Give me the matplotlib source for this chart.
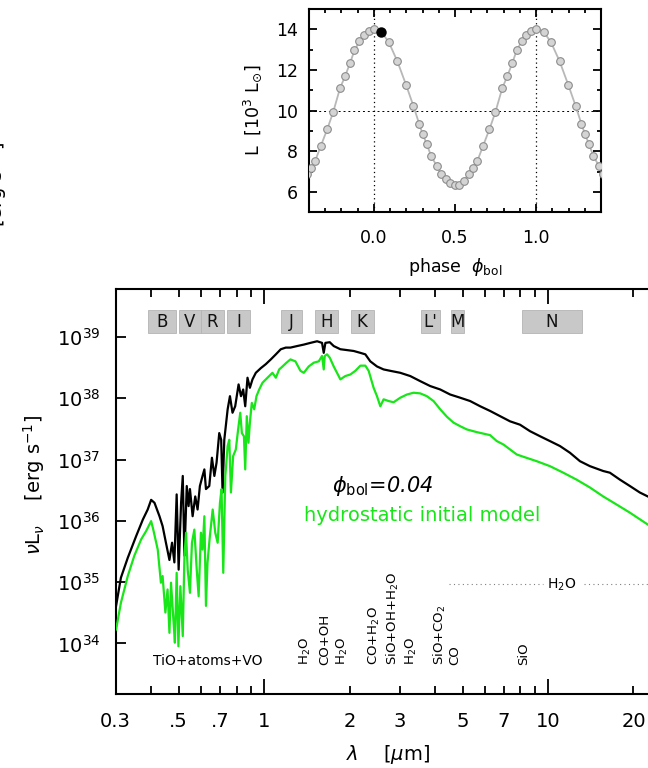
import matplotlib
matplotlib.use("Agg")
import matplotlib.pyplot as plt
import matplotlib.transforms as mtransforms
from matplotlib.ticker import FixedLocator, NullLocator, FixedFormatter, MultipleLocator, FormatStrFormatter
from matplotlib.patches import Rectangle

plt.rcParams['font.family'] = ['DejaVu Sans']
plt.rcParams['mathtext.fontset'] = 'dejavusans'

# ---------------- data: light curve ----------------
phase = [-0.414, -0.389, -0.363, -0.327, -0.288, -0.251, -0.209, -0.178, -0.147, -0.120,
         -0.089, -0.061, -0.031, 0.000, 0.046, 0.092, 0.145, 0.198, 0.244, 0.279,
         0.300, 0.325, 0.353, 0.386, 0.414, 0.442, 0.470, 0.498, 0.522, 0.553,
         0.586, 0.611, 0.637, 0.673, 0.712, 0.749, 0.791, 0.822, 0.853, 0.880,
         0.911, 0.939, 0.969, 1.000, 1.046, 1.092, 1.145, 1.198, 1.244, 1.279,
         1.300, 1.325, 1.353, 1.386, 1.414]
lum = [6.90, 7.17, 7.51, 8.27, 9.08, 9.93, 11.10, 11.69, 12.34, 12.96,
       13.41, 13.74, 13.93, 14.02, 13.88, 13.36, 12.42, 11.27, 10.22, 9.35,
       8.86, 8.37, 7.76, 7.30, 6.88, 6.63, 6.44, 6.32, 6.35, 6.53,
       6.90, 7.19, 7.51, 8.27, 9.08, 9.93, 11.10, 11.69, 12.34, 12.96,
       13.41, 13.74, 13.93, 14.02, 13.88, 13.36, 12.42, 11.27, 10.22, 9.35,
       8.86, 8.37, 7.76, 7.30, 6.88]
phase_sel = [0.046]
lum_sel = [13.88]

# ---------------- data: spectra ----------------
lam_dyn = [0.301, 0.313, 0.331, 0.354, 0.374, 0.389, 0.400, 0.411, 0.428, 0.439,
           0.451, 0.464, 0.474, 0.483, 0.492, 0.500, 0.510, 0.517, 0.524, 0.534,
           0.542, 0.548, 0.560, 0.572, 0.583, 0.594, 0.607, 0.616, 0.624, 0.641,
           0.655, 0.668, 0.680, 0.695, 0.706, 0.714, 0.724, 0.744, 0.758, 0.774,
           0.791, 0.813, 0.829, 0.844, 0.858, 0.874, 0.891, 0.910, 0.935, 0.974,
           1.014, 1.056, 1.100, 1.145, 1.192, 1.238, 1.307, 1.380, 1.456, 1.537,
           1.600, 1.622, 1.644, 1.703, 1.759, 1.856, 1.959, 2.068, 2.183, 2.273,
           2.366, 2.498, 2.636, 2.783, 3.017, 3.272, 3.548, 3.847, 4.172, 4.523,
           4.905, 5.318, 5.768, 6.254, 6.781, 7.352, 7.971, 8.645, 9.374, 10.16,
           11.02, 11.95, 12.96, 14.05, 15.65, 16.52, 17.92, 19.43, 21.06, 22.47]
L_dyn = [4.1e34, 1.18e35, 2.5e35, 5.6e35, 1.05e36, 1.53e36, 2.2e36, 1.97e36, 1.19e36, 8.2e35,
         4.4e35, 2.3e35, 4.4e35, 2.1e35, 2.7e36, 1.6e35, 1.97e36, 5.4e36, 2.7e35, 3.7e36,
         1.74e36, 3.3e36, 1.19e36, 2.5e36, 1.53e36, 3.7e36, 5.4e36, 6.9e36, 3.3e36, 3.7e36,
         1.07e37, 5.4e36, 8.9e36, 2.7e37, 2.1e37, 2.9e36, 2.1e37, 6.6e37, 1.08e38, 5.8e37,
         7.4e37, 1.68e38, 1.08e38, 1.39e38, 7.4e37, 2.16e38, 1.48e38, 2.03e38, 2.6e38, 3.1e38,
         3.6e38, 4.3e38, 5.2e38, 6.3e38, 6.7e38, 6.7e38, 7.1e38, 7.5e38, 8.0e38, 8.5e38,
         8.0e38, 5.5e38, 8.0e38, 8.2e38, 7.1e38, 6.3e38, 6.1e38, 5.9e38, 5.5e38, 5.2e38,
         4.0e38, 3.3e38, 2.95e38, 2.8e38, 2.6e38, 2.3e38, 1.9e38, 1.58e38, 1.39e38, 1.15e38,
         1.02e38, 9.0e37, 7.4e37, 6.2e37, 5.1e37, 4.2e37, 3.7e37, 2.9e37, 2.4e37, 2.0e37,
         1.66e37, 1.29e37, 9.4e36, 7.8e36, 6.5e36, 6.1e36, 4.7e36, 3.7e36, 2.9e36, 2.5e36]

lam_hyd = [0.301, 0.313, 0.331, 0.349, 0.369, 0.384, 0.400, 0.407, 0.422, 0.433,
           0.439, 0.449, 0.457, 0.464, 0.470, 0.479, 0.485, 0.492, 0.499, 0.507,
           0.517, 0.524, 0.531, 0.538, 0.548, 0.557, 0.568, 0.579, 0.588, 0.599,
           0.607, 0.616, 0.624, 0.632, 0.644, 0.659, 0.673, 0.686, 0.699, 0.708,
           0.718, 0.730, 0.744, 0.754, 0.764, 0.778, 0.795, 0.810, 0.824, 0.835,
           0.849, 0.858, 0.869, 0.881, 0.891, 0.905, 0.923, 0.940, 0.961, 0.987,
           1.014, 1.042, 1.070, 1.100, 1.130, 1.161, 1.199, 1.238, 1.289, 1.343,
           1.380, 1.436, 1.496, 1.558, 1.600, 1.622, 1.635, 1.666, 1.703, 1.759,
           1.831, 1.856, 1.932, 2.013, 2.096, 2.183, 2.273, 2.335, 2.431, 2.498,
           2.567, 2.636, 2.746, 2.858, 3.017, 3.185, 3.361, 3.548, 3.745, 3.952,
           4.172, 4.403, 4.647, 4.905, 5.176, 5.614, 6.254, 6.601, 6.966, 7.352,
           7.759, 8.191, 9.124, 10.16, 11.32, 12.61, 14.05, 15.65, 17.43, 19.43, 22.47]
L_hyd = [1.69e34, 4.6e34, 1.26e35, 2.7e35, 5.0e35, 6.8e35, 9.9e35, 7.2e35, 3.4e35, 9.8e34,
         1.26e35, 3.2e34, 7.6e34, 1.49e34, 9.8e34, 2.5e34, 1.03e34, 1.42e35, 9.0e33, 8.6e34,
         1.32e34, 2.7e35, 6.4e35, 1.6e35, 6.7e34, 4.4e35, 7.2e35, 1.6e35, 5.9e34, 6.4e35,
         3.4e35, 1.19e36, 4.1e34, 2.1e35, 5.6e35, 1.53e36, 6.4e35, 4.4e35, 1.97e36, 3.3e36,
         1.42e35, 5.4e36, 1.66e37, 2.1e37, 2.9e36, 1.14e37, 1.46e37, 3.1e37, 5.8e37, 2.7e37,
         2.4e37, 6.9e36, 5.1e37, 1.88e37, 4.0e37, 8.4e37, 6.6e37, 1.08e38, 1.39e38, 1.79e38,
         2.03e38, 2.3e38, 2.6e38, 2.16e38, 2.95e38, 3.3e38, 3.8e38, 4.3e38, 4.0e38, 2.8e38,
         2.6e38, 3.3e38, 3.8e38, 4.0e38, 4.9e38, 2.95e38, 4.9e38, 5.2e38, 4.6e38, 3.3e38,
         2.3e38, 2.03e38, 2.3e38, 2.44e38, 2.8e38, 3.4e38, 3.4e38, 2.8e38, 1.48e38, 1.08e38,
         7.4e37, 9.6e37, 9.0e37, 8.6e37, 1.02e38, 1.15e38, 1.23e38, 1.20e38, 1.08e38, 9.0e37,
         6.6e37, 5.0e37, 4.0e37, 3.5e37, 3.1e37, 2.8e37, 2.5e37, 2.0e37, 1.76e37, 1.46e37,
         1.21e37, 1.11e37, 9.4e36, 7.8e36, 6.1e36, 4.7e36, 3.5e36, 2.5e36, 1.85e36, 1.36e36, 8.7e35]

# photometric bands
band_names = ['B', 'V', 'R', 'I', 'J', 'H', 'K', "L'", 'M', 'N']
band_lo = [0.39, 0.50, 0.60, 0.74, 1.15, 1.51, 2.02, 3.56, 4.55, 8.1]
band_hi = [0.49, 0.60, 0.72, 0.89, 1.36, 1.82, 2.43, 4.17, 5.04, 13.2]

# molecular feature labels
mol_text = ['H$_2$O', 'CO+OH', 'H$_2$O', 'CO+H$_2$O', 'SiO+OH+H$_2$O', 'H$_2$O',
            'SiO+CO$_2$', 'CO', 'SiO']
mol_lam = [1.40, 1.64, 1.89, 2.44, 2.84, 3.31, 4.17, 4.70, 8.2]
h2o_band_lam = [4.49, 9.6, 13.4, 30.0]
h2o_band_L = 9.2e34
h2o_label_lam = 11.2

GREEN = '#18e618'

fig = plt.figure(figsize=(6.48, 7.68), dpi=100)

# ================= top panel =================
ax1 = fig.add_axes([0.4769, 0.7236, 0.4506, 0.2647])
ax1.plot(phase, lum, '-', color='#b8b8b8', lw=1.3, zorder=2)
ax1.plot(phase, lum, 'o', ms=5.5, mfc='#d4d4d4', mec='#8c8c8c', mew=0.8, zorder=3)
ax1.plot(phase_sel, lum_sel, 'o', ms=6.5, color='black', zorder=4)
ax1.axvline(0, color='black', ls=(0, (1, 2.5)), lw=0.9, zorder=1)
ax1.axvline(1, color='black', ls=(0, (1, 2.5)), lw=0.9, zorder=1)
ax1.axhline(10, color='black', ls=(0, (2, 3)), lw=0.7, zorder=1)
ax1.set_xlim(-0.4, 1.4)
ax1.set_ylim(5, 15)
ax1.xaxis.set_major_locator(MultipleLocator(0.5))
ax1.xaxis.set_minor_locator(MultipleLocator(0.1))
ax1.xaxis.set_major_formatter(FormatStrFormatter('%.1f'))
ax1.yaxis.set_major_locator(MultipleLocator(2))
ax1.yaxis.set_minor_locator(MultipleLocator(1))
ax1.yaxis.set_major_formatter(FormatStrFormatter('%d'))
ax1.tick_params(which='both', direction='in', top=True, right=True, width=1.3)
ax1.tick_params(which='major', length=6)
ax1.tick_params(which='minor', length=3)
ax1.tick_params(axis='x', which='major', labelsize=12.5, pad=12)
ax1.tick_params(axis='y', which='major', labelsize=12.5, pad=8)
for s in ax1.spines.values():
    s.set_linewidth(1.5)
ax1.set_xlabel(r'phase  $\phi_{\mathrm{bol}}$', fontsize=12.5)
ax1.set_ylabel(r'L  [10$^3$ L$_{\odot}$]', fontsize=12.5)
ax1.xaxis.set_label_coords(0.5, -0.215)
ax1.yaxis.set_label_coords(-0.154, 0.5)

# ================= lower panel =================
ax2 = fig.add_axes([0.1785, 0.0964, 0.8415, 0.5270])
ax2.set_xscale('log')
ax2.set_yscale('log')
ax2.set_xlim(0.3, 25)
ax2.set_ylim(1.5e33, 6e39)
ax2.plot(lam_dyn, L_dyn, '-', color='black', lw=1.6, zorder=3)
ax2.plot(lam_hyd, L_hyd, '-', color=GREEN, lw=1.6, zorder=4)

trans = mtransforms.blended_transform_factory(ax2.transData, ax2.transAxes)
for name, lo, hi in zip(band_names, band_lo, band_hi):
    ax2.add_patch(Rectangle((lo, 0.891), hi - lo, 0.058, transform=trans,
                            facecolor='#c8c8c8', edgecolor='#b4b4b4', lw=0.6, zorder=2))
    ax2.text((lo * hi) ** 0.5, 0.920, name, transform=trans, ha='center', va='center',
             fontsize=12, color='#111111', zorder=3)

for txt, lm in zip(mol_text, mol_lam):
    ax2.text(lm, 0.072, txt, transform=trans, rotation=90, ha='center', va='bottom',
             fontsize=9.5, color='black')
ax2.text(0.632, 0.0815, 'TiO+atoms+VO', transform=trans, ha='center', va='center',
         fontsize=10, color='black')
ax2.plot(h2o_band_lam[:2], [h2o_band_L, h2o_band_L], color='#808080', lw=0.8,
         ls=(0, (1, 3)), zorder=2)
ax2.plot(h2o_band_lam[2:], [h2o_band_L, h2o_band_L], color='#808080', lw=0.8,
         ls=(0, (1, 3)), zorder=2)
ax2.text(h2o_label_lam, h2o_band_L, 'H$_2$O', ha='center', va='center', fontsize=10)

ax2.text(2.61, 3.7e36, r'$\phi_{\mathrm{bol}}$=0.04', ha='center', va='center',
         fontsize=15, color='black', fontstyle='italic')
ax2.text(3.59, 1.22e36, 'hydrostatic initial model', ha='center', va='center',
         fontsize=14, color=GREEN)

ax2.xaxis.set_major_locator(FixedLocator([1, 10]))
ax2.xaxis.set_major_formatter(FixedFormatter(['1', '10']))
minor_pos = [0.3, 0.4, 0.5, 0.6, 0.7, 0.8, 0.9, 2, 3, 4, 5, 6, 7, 8, 9, 20]
minor_lab = ['0.3', '', '.5', '', '.7', '', '', '2', '3', '', '5', '', '7', '', '', '20']
ax2.xaxis.set_minor_locator(FixedLocator(minor_pos))
ax2.xaxis.set_minor_formatter(FixedFormatter(minor_lab))
ydec = [1e34, 1e35, 1e36, 1e37, 1e38, 1e39]
ax2.yaxis.set_major_locator(FixedLocator(ydec))
ax2.yaxis.set_major_formatter(FixedFormatter(['10$^{34}$', '10$^{35}$', '10$^{36}$',
                                              '10$^{37}$', '10$^{38}$', '10$^{39}$']))
ax2.yaxis.set_minor_locator(NullLocator())
ax2.tick_params(which='both', direction='in', top=True, right=True, width=1.3)
ax2.tick_params(axis='x', which='major', length=11, labelsize=14, pad=13)
ax2.tick_params(axis='x', which='minor', length=5.5, labelsize=14, pad=13)
ax2.tick_params(axis='y', which='major', length=7.5, labelsize=14, pad=11)
for s in ax2.spines.values():
    s.set_linewidth(1.5)
ax2.set_xlabel(r'$\lambda$    [$\mu$m]', fontsize=14)
ax2.set_ylabel(r'$\nu$L$_\nu$    [erg s$^{-1}$]', fontsize=14)
ax2.xaxis.set_label_coords(0.499, -0.122)
ax2.yaxis.set_label_coords(-0.126, 0.516)

# fragment of a neighbouring panel's label at the left edge
fig.text(-0.006, 0.76, r'[erg s$^{-1}$]', rotation=90, ha='center', va='center', fontsize=14)

fig.savefig('out.png', dpi=100)
